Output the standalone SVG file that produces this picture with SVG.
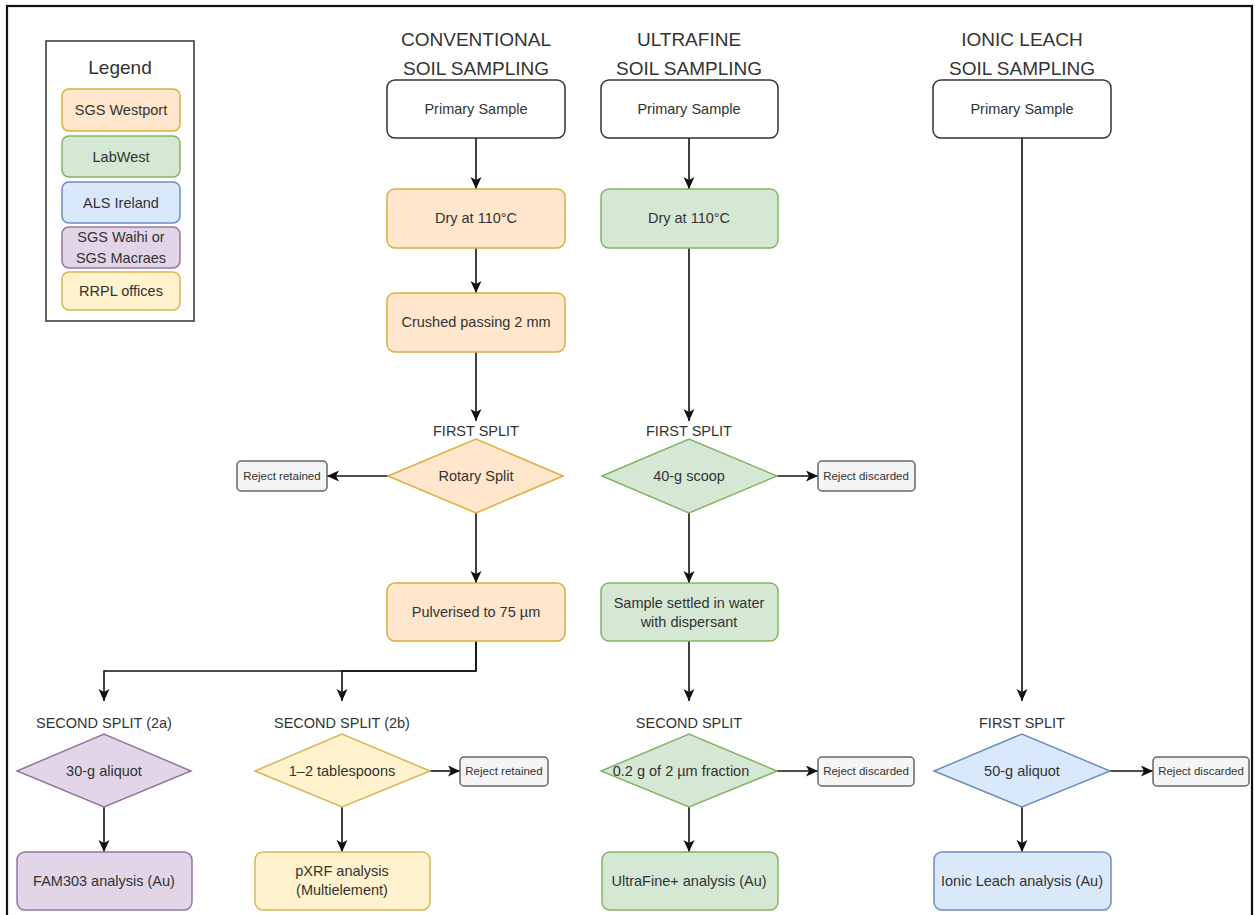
<svg xmlns="http://www.w3.org/2000/svg" width="1255" height="915" viewBox="0 0 1255 915">
<style>
text{font-family:"Liberation Sans",Arial,sans-serif;fill:#333;text-anchor:middle}
.t{font-size:19px}
.n{font-size:14.5px}
.s{font-size:11.5px}
.lbl{font-size:14.5px}
.wht{fill:#fff;stroke:#333;stroke-width:1.5}
.org{fill:#ffe6cc;stroke:#dcae3c;stroke-width:1.5}
.grn{fill:#d5e8d4;stroke:#82b366;stroke-width:1.5}
.blu{fill:#dae8fc;stroke:#6c8ebf;stroke-width:1.5}
.pur{fill:#e1d5e7;stroke:#9673a6;stroke-width:1.5}
.yel{fill:#fff2cc;stroke:#d6b656;stroke-width:1.5}
.gry{fill:#f5f5f5;stroke:#666;stroke-width:1.5}
.e{fill:none;stroke:#111;stroke-width:1.6}
</style>
<defs>
<marker id="ah" markerUnits="userSpaceOnUse" markerWidth="14" markerHeight="14" refX="12" refY="5.5" orient="auto">
<path d="M0,0 L12,5.5 L0,11 L3,5.5 z" fill="#111"/>
</marker>
</defs>
<rect x="0" y="0" width="1255" height="915" fill="#fff"/>
<rect x="7" y="6" width="1245" height="930" fill="none" stroke="#111" stroke-width="2.2"/>

<g id="legend">
<rect x="46" y="41" width="148" height="280" fill="#fff" stroke="#333" stroke-width="1.5"/>
<text class="t" x="120" y="74">Legend</text>
<rect class="org" x="62" y="89" width="118" height="42" rx="7"/>
<text class="n" x="121" y="115">SGS Westport</text>
<rect class="grn" x="62" y="136" width="118" height="41" rx="7"/>
<text class="n" x="121" y="162">LabWest</text>
<rect class="blu" x="62" y="182" width="118" height="41" rx="7"/>
<text class="n" x="121" y="208">ALS Ireland</text>
<rect class="pur" x="62" y="227" width="118" height="41" rx="7"/>
<text class="n" x="121" y="242">SGS Waihi or</text>
<text class="n" x="121" y="263">SGS Macraes</text>
<rect class="yel" x="62" y="272" width="118" height="38" rx="7"/>
<text class="n" x="121" y="296">RRPL offices</text>
</g>

<g id="titles">
<text class="t" x="476" y="46">CONVENTIONAL</text>
<text class="t" x="476" y="75">SOIL SAMPLING</text>
<text class="t" x="689" y="46">ULTRAFINE</text>
<text class="t" x="689" y="75">SOIL SAMPLING</text>
<text class="t" x="1022" y="46">IONIC LEACH</text>
<text class="t" x="1022" y="75">SOIL SAMPLING</text>
</g>

<g id="connectors">
<path class="e" d="M476,138 V189" marker-end="url(#ah)"/>
<path class="e" d="M476,248 V293" marker-end="url(#ah)"/>
<path class="e" d="M476,352 V421" marker-end="url(#ah)"/>
<path class="e" d="M388,476 H327" marker-end="url(#ah)"/>
<path class="e" d="M476,513 V583" marker-end="url(#ah)"/>
<path class="e" d="M476,641 V671 H104 V701" marker-end="url(#ah)"/>
<path class="e" d="M476,641 V671 H342 V701" marker-end="url(#ah)"/>
<path class="e" d="M104,807 V852" marker-end="url(#ah)"/>
<path class="e" d="M342,807 V852" marker-end="url(#ah)"/>
<path class="e" d="M430,771 H460" marker-end="url(#ah)"/>
<path class="e" d="M689,138 V189" marker-end="url(#ah)"/>
<path class="e" d="M689,248 V421" marker-end="url(#ah)"/>
<path class="e" d="M777,476 H818" marker-end="url(#ah)"/>
<path class="e" d="M689,513 V583" marker-end="url(#ah)"/>
<path class="e" d="M689,641 V701" marker-end="url(#ah)"/>
<path class="e" d="M777,771 H818" marker-end="url(#ah)"/>
<path class="e" d="M689,807 V852" marker-end="url(#ah)"/>
<path class="e" d="M1022,138 V701" marker-end="url(#ah)"/>
<path class="e" d="M1110,771 H1153" marker-end="url(#ah)"/>
<path class="e" d="M1022,807 V852" marker-end="url(#ah)"/>
</g>

<g id="labels">
<text class="lbl" x="476" y="436">FIRST SPLIT</text>
<text class="lbl" x="689" y="436">FIRST SPLIT</text>
<text class="lbl" x="104" y="728">SECOND SPLIT (2a)</text>
<text class="lbl" x="342" y="728">SECOND SPLIT (2b)</text>
<text class="lbl" x="689" y="728">SECOND SPLIT</text>
<text class="lbl" x="1022" y="728">FIRST SPLIT</text>
</g>

<g id="conv-primary"><rect class="wht" x="387" y="80" width="178" height="58" rx="8"/><text class="n" x="476" y="114">Primary Sample</text></g>
<g id="conv-dry"><rect class="org" x="387" y="189" width="178" height="59" rx="8"/><text class="n" x="476" y="223">Dry at 110°C</text></g>
<g id="conv-crush"><rect class="org" x="387" y="293" width="178" height="59" rx="8"/><text class="n" x="476" y="327">Crushed passing 2 mm</text></g>
<g id="conv-rotary"><path class="org" d="M388,476 L476,439 L563,476 L476,513 Z"/><text class="n" x="476" y="481">Rotary Split</text></g>
<g id="conv-reject1"><rect class="gry" x="237" y="461" width="90" height="30" rx="4"/><text class="s" x="282" y="480">Reject retained</text></g>
<g id="conv-pulv"><rect class="org" x="387" y="583" width="178" height="58" rx="8"/><text class="n" x="476" y="617">Pulverised to 75 µm</text></g>
<g id="conv-30g"><path class="pur" d="M17,771 L104,734 L191,771 L104,807 Z"/><text class="n" x="104" y="776">30-g aliquot</text></g>
<g id="conv-fam"><rect class="pur" x="17" y="852" width="175" height="58" rx="8"/><text class="n" x="104" y="886">FAM303 analysis (Au)</text></g>
<g id="conv-tbsp"><path class="yel" d="M255,771 L342,734 L430,771 L342,807 Z"/><text class="n" x="342" y="776">1–2 tablespoons</text></g>
<g id="conv-reject2"><rect class="gry" x="460" y="757" width="88" height="29" rx="4"/><text class="s" x="504" y="775">Reject retained</text></g>
<g id="conv-pxrf"><rect class="yel" x="255" y="852" width="175" height="58" rx="8"/><text class="n" x="342" y="876">pXRF analysis</text><text class="n" x="342" y="895">(Multielement)</text></g>

<g id="uf-primary"><rect class="wht" x="601" y="80" width="177" height="58" rx="8"/><text class="n" x="689" y="114">Primary Sample</text></g>
<g id="uf-dry"><rect class="grn" x="601" y="189" width="177" height="59" rx="8"/><text class="n" x="689" y="223">Dry at 110°C</text></g>
<g id="uf-scoop"><path class="grn" d="M602,476 L689,439 L777,476 L689,513 Z"/><text class="n" x="689" y="481">40-g scoop</text></g>
<g id="uf-reject1"><rect class="gry" x="818" y="461" width="97" height="30" rx="4"/><text class="s" x="866" y="480">Reject discarded</text></g>
<g id="uf-settle"><rect class="grn" x="601" y="583" width="177" height="58" rx="8"/><text class="n" x="689" y="608">Sample settled in water</text><text class="n" x="689" y="627">with dispersant</text></g>
<g id="uf-frac"><path class="grn" d="M601,771 L689,734 L777,771 L689,807 Z"/><text class="n" x="681" y="776">0.2 g of 2 µm fraction</text></g>
<g id="uf-reject2"><rect class="gry" x="818" y="757" width="96" height="29" rx="4"/><text class="s" x="866" y="775">Reject discarded</text></g>
<g id="uf-analysis"><rect class="grn" x="602" y="852" width="176" height="58" rx="8"/><text class="n" x="689" y="886">UltraFine+ analysis (Au)</text></g>

<g id="il-primary"><rect class="wht" x="933" y="80" width="178" height="58" rx="8"/><text class="n" x="1022" y="114">Primary Sample</text></g>
<g id="il-50g"><path class="blu" d="M934,771 L1022,734 L1110,771 L1022,807 Z"/><text class="n" x="1022" y="776">50-g aliquot</text></g>
<g id="il-reject"><rect class="gry" x="1153" y="757" width="96" height="29" rx="4"/><text class="s" x="1201" y="775">Reject discarded</text></g>
<g id="il-analysis"><rect class="blu" x="934" y="852" width="177" height="58" rx="8"/><text class="n" x="1022" y="886">Ionic Leach analysis (Au)</text></g>
</svg>
